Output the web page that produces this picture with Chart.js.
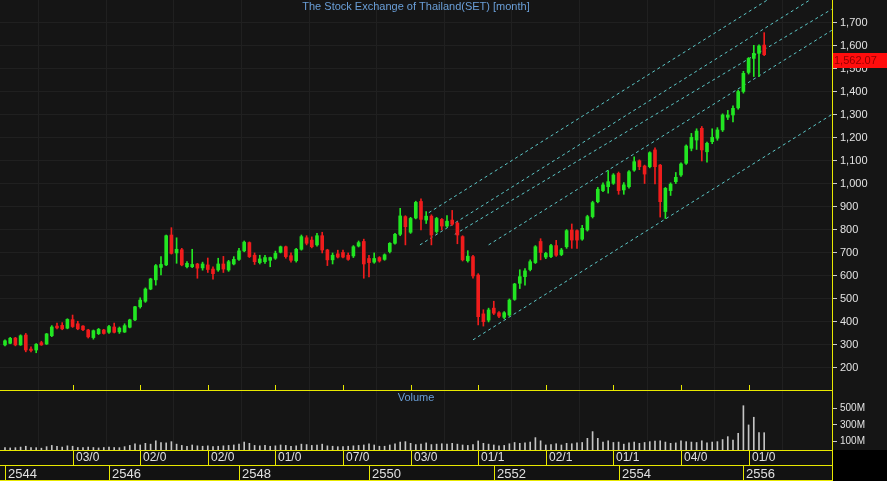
<!DOCTYPE html>
<html>
<head>
<meta charset="utf-8">
<script src="https://cdn.jsdelivr.net/npm/chart.js@4.4.1/dist/chart.umd.min.js"></script>
<style>
  html, body { margin: 0; padding: 0; background: #000; }
  #wrap { position: relative; width: 887px; height: 481px; overflow: hidden; background: #000; }
  #main { position: absolute; left: 0; top: 0; }
  #vol { position: absolute; left: 0; top: 390px; }
</style>
</head>
<body>
<div id="wrap">
  <canvas id="main" width="887" height="390" style="width:887px;height:390px"></canvas>
  <canvas id="vol" width="887" height="91" style="width:887px;height:91px"></canvas>
</div>
<script>
/* monthly SET index candles (index 0 = first month shown) */
const opens = [300,307,330,300,343,282,278,310,304,340,382,385,373,410,392,382,365,332,349,365,
  355,378,357,356,377,409,466,490,543,583,637,648,778,700,714,640,640,652,635,648,
  630,626,652,626,652,672,709,745,690,658,662,668,677,703,727,688,666,716,766,756,
  735,775,713,670,696,702,690,687,730,750,676,660,680,672,706,742,781,858,790,852,
  924,843,860,793,846,817,843,830,771,666,684,604,435,408,460,440,420,430,498,568,
  597,628,658,750,682,684,732,693,727,800,797,760,800,858,923,971,988,1003,1046,974,
  988,1060,1101,1078,1075,1148,1082,880,971,1010,1039,1090,1155,1191,1242,1140,1184,1199,1235,1290,
  1300,1331,1402,1485,1546,1568,1604];
const highs = [322,333,333,344,350,292,306,316,350,384,395,397,414,430,403,384,368,365,372,368,
  385,395,378,392,412,468,505,548,590,650,684,778,810,766,720,662,716,655,660,678,
  640,677,685,668,684,720,752,748,700,690,690,682,708,730,730,700,720,778,775,770,
  785,790,716,700,712,712,700,732,752,760,690,700,684,696,745,785,894,862,855,925,
  935,880,866,855,850,862,885,835,775,710,690,610,453,460,490,445,445,500,568,627,
  632,670,732,762,703,737,755,720,802,826,800,820,864,925,985,1005,1058,1045,1052,1006,
  1058,1118,1105,1082,1140,1157,1085,985,1005,1050,1092,1170,1220,1240,1250,1182,1240,1245,1305,1320,
  1340,1408,1490,1550,1603,1605,1658];
const lows = [296,305,296,298,270,270,266,298,302,336,370,366,370,376,366,362,330,325,345,347,
  350,352,350,354,374,405,460,485,540,560,604,645,695,655,644,635,636,590,625,615,
  586,620,615,620,648,668,705,680,650,652,655,640,672,700,677,660,660,712,735,722,
  730,700,645,652,678,678,668,680,726,590,596,655,660,668,700,738,775,735,785,848,
  800,828,735,786,800,812,820,740,665,660,590,387,382,400,432,418,414,425,494,545,
  560,622,654,670,675,680,685,688,720,720,720,755,795,852,918,966,960,998,955,955,
  982,1055,1062,1002,1070,1000,856,850,950,1002,1033,1085,1144,1150,1100,1095,1175,1190,1228,1280,
  1270,1325,1395,1478,1467,1467,1558];
const closes = [318,329,300,340,278,276,303,300,348,378,374,370,411,380,370,366,335,362,368,350,
  380,355,373,384,409,466,495,543,587,645,650,775,698,716,648,655,650,634,652,628,
  610,652,630,662,672,709,747,684,662,674,680,680,698,727,684,668,716,771,742,727,
  775,713,670,690,682,682,672,727,745,652,658,676,665,692,742,781,861,814,850,920,
  846,860,778,850,817,838,825,778,670,686,600,423,401,452,438,425,440,495,565,597,
  622,662,727,702,698,732,690,713,797,756,756,807,858,919,977,996,1010,1039,971,996,
  1053,1097,1075,1043,1136,1075,923,981,999,1029,1087,1165,1203,1230,1148,1177,1203,1235,1300,1300,
  1329,1402,1481,1546,1568,1600,1562.07];
/* monthly volume, millions */
const volumes = [30,25,28,35,45,30,28,22,40,55,45,35,50,45,30,28,35,30,25,30,
  35,30,28,40,55,75,60,80,70,110,90,85,100,70,55,45,60,50,45,50,
  40,45,50,55,60,70,95,80,55,50,55,45,50,60,55,45,50,70,65,55,
  60,70,50,45,40,40,45,50,55,60,75,60,45,45,60,75,95,100,80,65,
  70,85,65,70,75,70,80,70,60,55,65,108,80,70,60,50,55,75,90,80,
  85,95,148,110,60,65,75,60,80,75,85,90,140,220,140,95,110,90,95,70,
  85,95,80,90,100,108,110,95,80,85,110,100,95,90,110,85,95,100,125,160,
  120,200,530,300,392,207,207];

const priceTicks = [200,300,400,500,600,700,800,900,1000,1100,1200,1300,1400,1500,1600,1700];
const volumeTicks = [100,200,300,400,500,600];
const gridIdx = [13,26,39,52,65,78,91,104,117,130,143];
const dateLabels = ['03/0','02/0','02/0','01/0','07/0','03/0','01/1','02/1','01/1','04/0','01/0'];
const yearIdx = [0,20,45,70,94,118,142];
const yearLabels = ['2544','2546','2548','2550','2552','2554','2556'];

/* trend channel lines: start month, start value, end month, end value */
const chanStartIdx = [81.5, 79.8, 86.5, 93, 90];
const chanStartVal = [875, 735, 781, 735, 322];
const chanEndIdx = [159, 159, 159, 159, 159];
const chanEndVal = [1976, 1860, 1760, 1668, 1302];

const title = 'The Stock Exchange of Thailand(SET) [month]';
const FONT = '"Liberation Sans", Arial, Helvetica, sans-serif';
Chart.defaults.font.family = FONT;

const X_MIN = -0.96, X_MAX = 159.04;
const UP = '#22e622', DOWN = '#f01c1c';
const candleColors = closes.map((c, i) => c >= opens[i] ? UP : DOWN);

const bodies = opens.map((o, i) => ({ x: i, y: [o, closes[i]] }));
const wicks = lows.map((l, i) => ({ x: i, y: [l, highs[i]] }));

const chanSets = chanStartIdx.map((s, k) => ({
  type: 'line',
  data: [{ x: s, y: chanStartVal[k] }, { x: chanEndIdx[k], y: chanEndVal[k] }],
  borderColor: '#5cc8c8',
  borderWidth: 1,
  borderDash: [3, 3],
  pointRadius: 0,
  fill: false
}));

function xAxis() {
  return {
    type: 'linear', min: X_MIN, max: X_MAX, offset: false,
    grid: { color: '#202020', drawTicks: false },
    border: { display: false },
    ticks: { display: false },
    afterBuildTicks(s) { s.ticks = gridIdx.map(v => ({ value: v })); },
    afterFit(s) { s.height = 0; s.paddingLeft = 0; s.paddingRight = 0; }
  };
}

const mainDecor = {
  id: 'mainDecor',
  beforeDraw(chart) {
    const c = chart.ctx;
    c.save();
    c.fillStyle = '#151515';
    c.fillRect(0, 0, chart.width, chart.height);
    c.restore();
  },
  afterDraw(chart) {
    const c = chart.ctx, a = chart.chartArea, xs = chart.scales.x, ys = chart.scales.y;
    c.save();
    c.font = '11px ' + FONT;
    c.fillStyle = '#6a9fd8';
    c.textAlign = 'center';
    c.textBaseline = 'top';
    c.fillText(title, (a.left + a.right) / 2, 1);
    // yellow ticks at bottom of price panel
    c.strokeStyle = '#e8e800';
    c.lineWidth = 1;
    gridIdx.forEach(v => {
      const px = Math.round(xs.getPixelForValue(v)) + 0.5;
      c.beginPath(); c.moveTo(px, a.bottom - 5); c.lineTo(px, a.bottom); c.stroke();
    });
    // last price tag
    const last = closes[closes.length - 1];
    const py = Math.round(ys.getPixelForValue(last));
    c.fillStyle = '#ff0d0d';
    c.fillRect(a.right + 1, py - 2, chart.width - a.right - 1, 15);
    c.fillStyle = '#900000';
    c.textAlign = 'left';
    c.textBaseline = 'middle';
    c.fillText(last.toLocaleString('en-US', { minimumFractionDigits: 2 }), a.right + 2, py + 6);
    c.restore();
  }
};

new Chart(document.getElementById('main'), {
  type: 'bar',
  data: {
    datasets: [
      { data: bodies, backgroundColor: candleColors, barThickness: 3, grouped: false, minBarLength: 1, borderWidth: 0 },
      { data: wicks, backgroundColor: candleColors, barThickness: 1, grouped: false, borderWidth: 0 }
    ].concat(chanSets)
  },
  options: {
    responsive: false,
    animation: false,
    layout: { padding: 0 },
    plugins: { legend: { display: false }, tooltip: { enabled: false } },
    scales: {
      x: xAxis(),
      y: {
        type: 'linear', position: 'right', min: 104, max: 1800,
        grid: { color: '#202020', tickColor: '#cccccc', tickLength: 5 },
        border: { display: true, color: '#e8e800', width: 1 },
        ticks: { color: '#e2e2e2', font: { size: 11 }, padding: 3, callback: v => v.toLocaleString('en-US') },
        afterBuildTicks(s) { s.ticks = priceTicks.map(v => ({ value: v })); },
        afterFit(s) { s.width = 55; s.paddingTop = 0; s.paddingBottom = 0; }
      }
    }
  },
  plugins: [mainDecor]
});

const volDecor = {
  id: 'volDecor',
  beforeDraw(chart) {
    const c = chart.ctx, a = chart.chartArea;
    c.save();
    c.fillStyle = '#000';
    c.fillRect(0, 0, chart.width, chart.height);
    c.fillStyle = '#151515';
    c.fillRect(0, 0, chart.width, a.bottom);
    c.fillStyle = '#121212';
    c.fillRect(0, a.bottom, a.right, chart.height - a.bottom);
    c.restore();
  },
  afterDraw(chart) {
    const c = chart.ctx, a = chart.chartArea, xs = chart.scales.x;
    const r1 = a.bottom, r2 = a.bottom + 15, r3 = chart.height - 1;
    c.save();
    c.font = '11px ' + FONT;
    c.fillStyle = '#6a9fd8';
    c.textAlign = 'center';
    c.textBaseline = 'top';
    c.fillText('Volume', (a.left + a.right) / 2, 2);

    c.strokeStyle = '#e8e800';
    c.lineWidth = 1;
    const hline = y => { c.beginPath(); c.moveTo(0, y + 0.5); c.lineTo(a.right, y + 0.5); c.stroke(); };
    const vline = (x, y0, y1) => { c.beginPath(); c.moveTo(x + 0.5, y0); c.lineTo(x + 0.5, y1); c.stroke(); };
    hline(0); hline(r1); hline(r2); hline(r3);
    vline(Math.round(a.right), 0, chart.height);

    c.fillStyle = '#e0e0e0';
    c.textAlign = 'left';
    c.textBaseline = 'middle';
    c.font = '12px ' + FONT;
    gridIdx.forEach((v, k) => {
      const px = Math.round(xs.getPixelForValue(v));
      vline(px, r1, r2);
      c.fillText(dateLabels[k], px + 3, r1 + 8);
    });
    c.font = '13px ' + FONT;
    yearIdx.forEach((v, k) => {
      const px = Math.round(xs.getPixelForValue(v));
      vline(px, r2, r3);
      c.fillText(yearLabels[k], px + 3, r2 + 9);
    });
    c.restore();
  }
};

new Chart(document.getElementById('vol'), {
  type: 'bar',
  data: {
    datasets: [{ data: volumes.map((v, i) => ({ x: i, y: v })), backgroundColor: '#c4c4c4', barThickness: 1, borderWidth: 0 }]
  },
  options: {
    responsive: false,
    animation: false,
    layout: { padding: { top: 1, bottom: 31 } },
    plugins: { legend: { display: false }, tooltip: { enabled: false } },
    scales: {
      x: xAxis(),
      y: {
        type: 'linear', position: 'right', min: 0, max: 706,
        grid: { drawOnChartArea: false, tickColor: '#cccccc', tickLength: 5 },
        border: { display: false },
        ticks: { color: '#e2e2e2', font: { size: 10 }, padding: 3, callback: v => (v % 200 === 100 ? v + 'M' : '') },
        afterBuildTicks(s) { s.ticks = volumeTicks.map(v => ({ value: v })); },
        afterFit(s) { s.width = 55; s.paddingTop = 0; s.paddingBottom = 0; }
      }
    }
  },
  plugins: [volDecor]
});
</script>
</body>
</html>
